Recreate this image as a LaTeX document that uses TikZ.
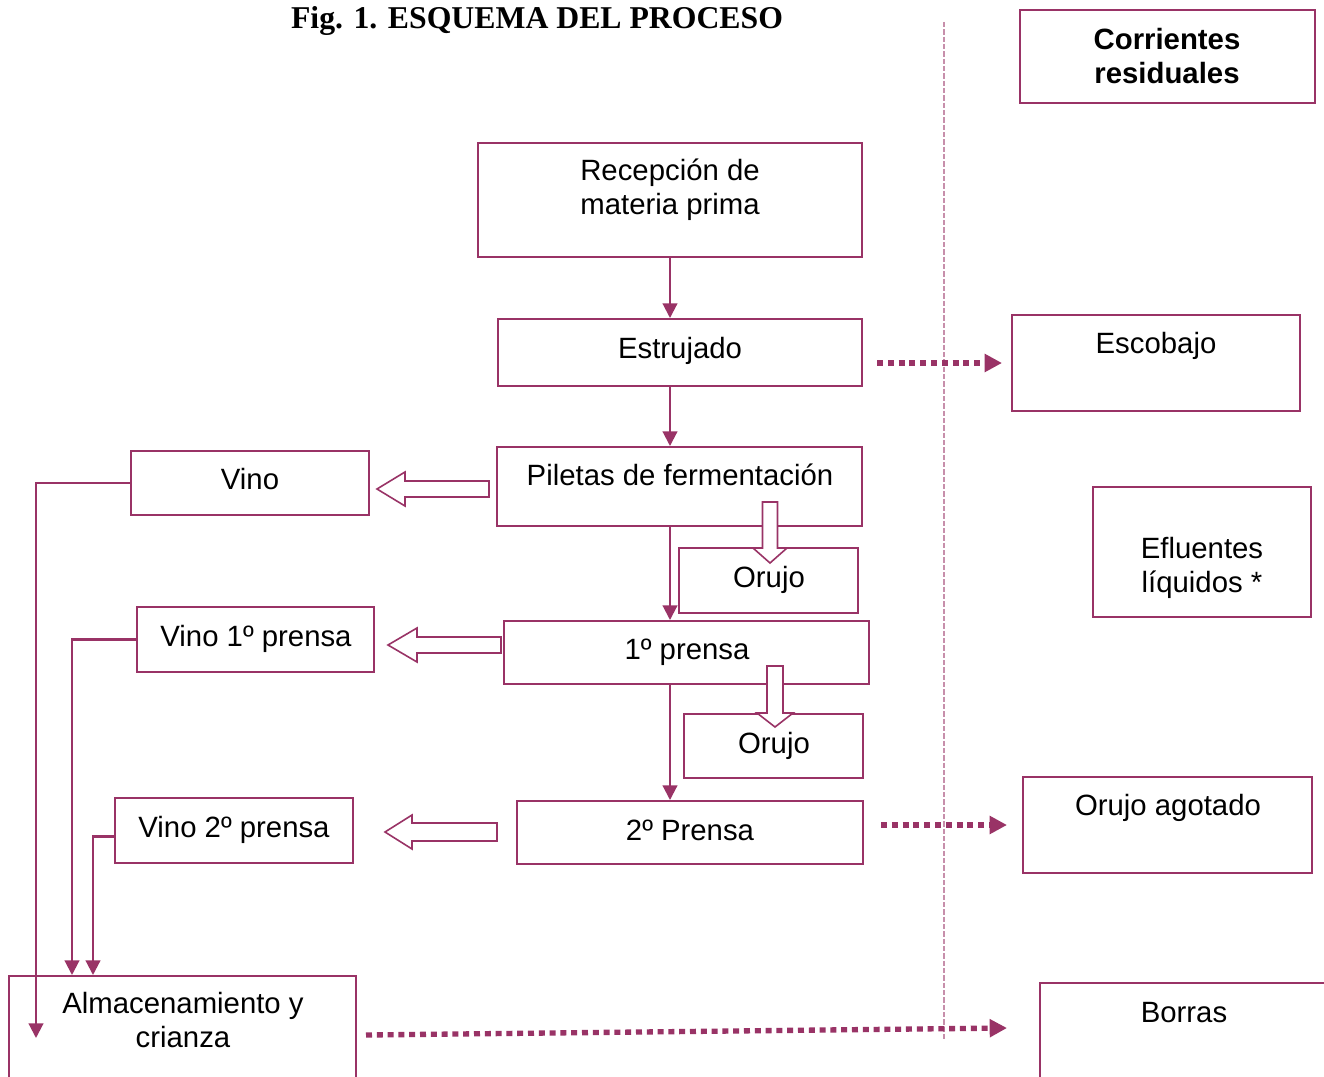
\documentclass[tikz,border=0pt]{standalone}
\usepackage{fontspec}
\setmainfont{Liberation Sans}
\newfontfamily\titlefont{Liberation Serif}
\usetikzlibrary{arrows.meta,calc}
\definecolor{mag}{HTML}{993366}
\newcommand\bx[5]{\node[box, minimum width={(#4-#2)*0.75pt}, minimum height={(#5-#3)*0.75pt}] (#1) at ({(#2+#4)/2},{(#3+#5)/2}) {};}
\begin{document}
\begin{tikzpicture}[x=0.75pt,y=-0.75pt,
  box/.style={draw=mag, line width=1.5pt, inner sep=0pt, fill=none},
  txt/.style={font=\fontsize{22}{25.5}\selectfont, align=center, inner sep=0pt},
  conn/.style={draw=mag, line width=1.6pt, -{Triangle[length=11pt,width=11pt]}},
  dotarrow/.style={draw=mag, line width=4pt, dash pattern=on 4.5pt off 3.6pt, -{Triangle[length=13pt,width=13pt]}},
  hollow/.style={draw=mag, line width=1.2pt, fill=white, line join=miter},
  sep/.style={draw=mag!55, line width=0.8pt, dash pattern=on 4pt off 1.5pt}
]
\clip (0,0) rectangle (1324,1077);
\fill[white] (0,0) rectangle (1324,1077);

% title
\node[font=\titlefont\bfseries\fontsize{23.8}{28}\selectfont, anchor=base, inner sep=0pt] (title) at (537,29) {Fig. 1. ESQUEMA DEL PROCESO};

% separator
\coordinate (sepTop) at (944,22);
\coordinate (sepBot) at (944,1040);
\draw[sep] (sepTop) -- (sepBot);

% boxes
\bx{corr}{1020}{10}{1315}{103}
\bx{rec}{478}{143}{862}{257}
\bx{est}{498}{319}{862}{386}
\bx{esc}{1012}{315}{1300}{411}
\bx{pil}{497}{447}{862}{526}
\bx{vino}{131}{451}{369}{515}
\bx{or1}{679}{548}{858}{613}
\bx{efl}{1093}{487}{1311}{617}
\bx{pone}{504}{621}{869}{684}
\bx{vone}{137}{607}{374}{672}
\bx{or2}{684}{714}{863}{778}
\bx{ptwo}{517}{801}{863}{864}
\bx{vtwo}{115}{798}{353}{863}
\bx{oa}{1023}{777}{1312}{873}
\bx{alm}{9}{976}{356}{1110}
\bx{bor}{1040}{983}{1380}{1110}

% texts
\node[txt, font=\bfseries\fontsize{22}{26}\selectfont] (tcorr) at (1167,56) {Corrientes\\residuales};
\node[txt] (trec) at (670,190) {Recepción de\\materia prima};
\node[txt, anchor=base] (test) at (680,358) {Estrujado};
\node[txt, anchor=base] (tesc) at (1156,353) {Escobajo};
\node[txt, anchor=base] (tpil) at (680,485) {Piletas de fermentación};
\node[txt, anchor=base] (tvino) at (250,489) {Vino};
\node[txt, anchor=base] (tor1) at (769,587) {Orujo};
\node[txt] (tefl) at (1202,568) {Efluentes\\líquidos *};
\node[txt, anchor=base] (tpone) at (687,659) {1º prensa};
\node[txt, anchor=base] (tvone) at (256,646) {Vino 1º prensa};
\node[txt, anchor=base] (tor2) at (774,753) {Orujo};
\node[txt, anchor=base] (tptwo) at (690,840) {2º Prensa};
\node[txt, anchor=base] (tvtwo) at (234,837) {Vino 2º prensa};
\node[txt, anchor=base] (toa) at (1168,815) {Orujo agotado};
\node[txt] (talm) at (183,1020) {Almacenamiento y\\crianza};
\node[txt, anchor=base] (tbor) at (1184,1022) {Borras};

% main vertical connectors
\draw[conn] (rec.south) -- (rec.south |- est.north);
\draw[conn] (rec.south |- est.south) -- (rec.south |- pil.north);
\draw[conn] (rec.south |- pil.south) -- (rec.south |- pone.north);
\draw[conn] (rec.south |- pone.south) -- (rec.south |- ptwo.north);

% wine lines to storage
\coordinate (almA) at (36,1038);
\draw[conn] (vino.west) -| (almA);
\draw[conn] (vone.west) -| ($(alm.north west)+(64,0)$);
\draw[conn] ($(vtwo.west)+(0,6)$) -| ($(alm.north west)+(85,0)$);

% dotted arrows to residual streams
\draw[dotarrow] ($(est.east |- esc.west)+(14,0)$) -- ($(esc.west)+(-9,0)$);
\draw[dotarrow] ($(ptwo.east |- oa.west)+(17,0)$) -- ($(oa.west)+(-15,0)$);
\coordinate (dA) at (366,1035);
\coordinate (dB) at (1007,1028);
\draw[dotarrow] (dA) -- (dB);

% hollow block arrows (left)
\coordinate (hA1) at (489,489); \coordinate (hA2) at (377,489);
\draw[hollow] ($(hA1)+(0,-8)$) -- ($(hA2)+(28,-8)$) -- ($(hA2)+(28,-17)$) -- (hA2) -- ($(hA2)+(28,17)$) -- ($(hA2)+(28,8)$) -- ($(hA1)+(0,8)$) -- cycle;
\coordinate (hB1) at (501,645); \coordinate (hB2) at (388,645);
\draw[hollow] ($(hB1)+(0,-8)$) -- ($(hB2)+(29,-8)$) -- ($(hB2)+(29,-17)$) -- (hB2) -- ($(hB2)+(29,17)$) -- ($(hB2)+(29,8)$) -- ($(hB1)+(0,8)$) -- cycle;
\coordinate (hC1) at (497,832); \coordinate (hC2) at (385,832);
\draw[hollow] ($(hC1)+(0,-9)$) -- ($(hC2)+(27,-9)$) -- ($(hC2)+(27,-17)$) -- (hC2) -- ($(hC2)+(27,17)$) -- ($(hC2)+(27,9)$) -- ($(hC1)+(0,9)$) -- cycle;

% hollow block arrows (down)
\coordinate (vA1) at (770,502); \coordinate (vA2) at (770,563);
\draw[hollow] ($(vA1)+(-7.5,0)$) -- ($(vA2)+(-7.5,-15)$) -- ($(vA2)+(-17,-15)$) -- (vA2) -- ($(vA2)+(17,-15)$) -- ($(vA2)+(7.5,-15)$) -- ($(vA1)+(7.5,0)$) -- cycle;
\coordinate (vB1) at (775,666); \coordinate (vB2) at (775,727);
\draw[hollow] ($(vB1)+(-8,0)$) -- ($(vB2)+(-8,-14)$) -- ($(vB2)+(-18,-14)$) -- (vB2) -- ($(vB2)+(18,-14)$) -- ($(vB2)+(8,-14)$) -- ($(vB1)+(8,0)$) -- cycle;
\end{tikzpicture}
\end{document}
